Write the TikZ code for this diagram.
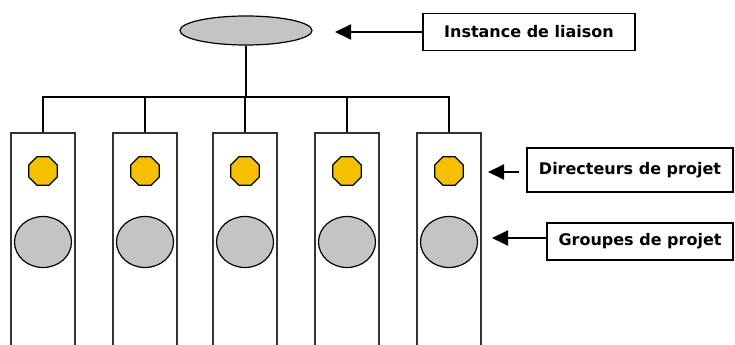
\documentclass[tikz,border=0pt]{standalone}
\usepackage{fontspec}
\setmainfont{DejaVu Sans}
\usetikzlibrary{shapes.geometric,arrows.meta}
\definecolor{lead}{HTML}{F5C000}
\definecolor{team}{HTML}{C4C4C4}
\definecolor{frame}{HTML}{333333}
\tikzset{
  x=0.75pt, y=-0.75pt,
  wire/.style={draw=black, line width=1.5pt},
  column/.style={draw=frame, line width=1.5pt, fill=white, rectangle,
    minimum width=64*0.75pt, minimum height=216*0.75pt, inner sep=0pt},
  director/.style={regular polygon, regular polygon sides=8, draw=black,
    line width=0.9pt, fill=lead, minimum size=31*0.75pt, inner sep=0pt},
  group/.style={ellipse, draw=black, line width=0.9pt, fill=team,
    minimum width=57*0.75pt, minimum height=51*0.75pt, inner sep=0pt},
  council/.style={ellipse, draw=black, line width=0.9pt, fill=team,
    minimum width=132*0.75pt, minimum height=29*0.75pt, inner sep=0pt},
  legend/.style={draw=black, line width=1pt, fill=white, rectangle,
    inner sep=0pt, font=\bfseries\fontsize{12}{14}\selectfont},
  pointer/.style={draw=black, line width=1.5pt,
    -{Triangle[length=16*0.75pt, width=15*0.75pt]}},
}
\begin{document}
\begin{tikzpicture}
\useasboundingbox (0,0) rectangle (735,345);
\clip (0,0) rectangle (735,345);

% liaison body at the top
\node[council] (top) at (246,30.5) {};

% the five project columns
\foreach \i/\x in {1/43,2/145,3/245,4/347,5/449}{
  \node[column] (c\i) at (\x,241) {};
  \node[director] (d\i) at (\x,171) {};
  \node[group] (g\i) at (\x,242) {};
}

% tree linking the liaison body to every column
\coordinate (bus) at (0,97);
\draw[wire] (c1.north) |- (bus -| c5.north) -- (c5.north);
\foreach \i in {2,3,4}{
  \draw[wire] (c\i.north) -- (c\i.north |- bus);
}
\draw[wire] (top.south) -- (top.south |- bus);

% legend boxes
\node[legend, minimum width=212*0.75pt, minimum height=37*0.75pt] (inst) at (529,32) {Instance de liaison};
\node[legend, minimum width=206*0.75pt, minimum height=44*0.75pt] (dirs) at (630,170) {Directeurs de projet};
\node[legend, minimum width=186*0.75pt, minimum height=37*0.75pt] (grps) at (640,241.5) {Groupes de projet};

% pointers from the legend to the shapes
\coordinate (p1) at (335,32);
\coordinate (p2) at (488,172);
\coordinate (p3) at (492,238);
\draw[pointer] (inst.west) -- (p1);
\draw[pointer, shorten <=7*0.75pt] (dirs.west |- p2) -- (p2);
\draw[pointer] (grps.west |- p3) -- (p3);
\end{tikzpicture}
\end{document}
